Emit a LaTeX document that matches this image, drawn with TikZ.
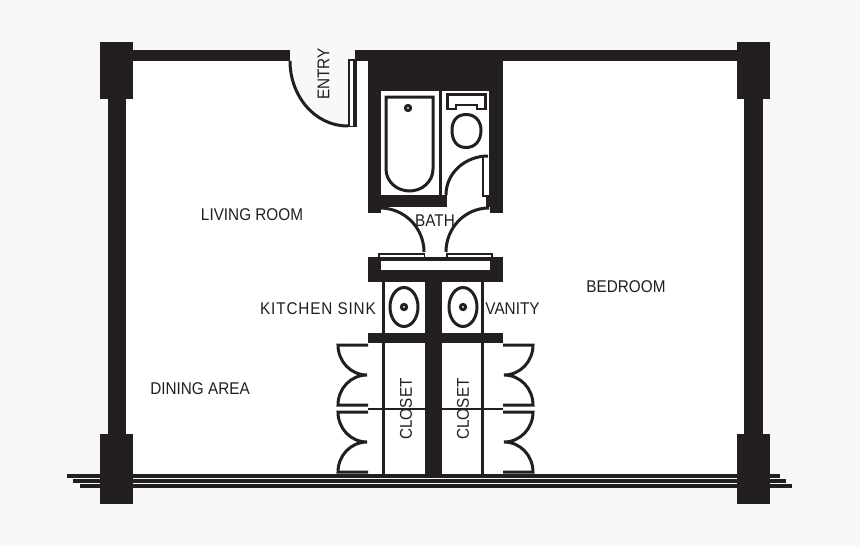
\documentclass[tikz,border=0pt]{standalone}
\usepackage{fontspec}
\setmainfont[FakeStretch=0.9]{Liberation Sans}
\definecolor{wallink}{HTML}{231F20}
\definecolor{outside}{HTML}{F8F8F8}
\tikzset{
	wall/.style={fill=wallink, draw=none},
	fixture/.style={draw=wallink, line width=3pt, fill=white},
	drain/.style={draw=wallink, line width=3pt, fill=white},
	swing/.style={draw=wallink, line width=3pt},
	roomlabel/.style={text=wallink, font=\fontsize{17}{17}\selectfont, inner sep=0pt},
}
\begin{document}
\begin{tikzpicture}[x=1pt, y=-1pt]
	\useasboundingbox (0,0) rectangle (860,546);
	\fill[outside] (0,0) rectangle (860,546);
	\fill[white] (126,61) rectangle (744,476);
	% entry recess
	\fill[outside] (290,50) -- (290,61) to[out=-90, in=180] (348,126) -- (348,50) -- cycle;
	\fill[outside] (348,50) rectangle (355,59);

	% outer walls and pillars
	\foreach \px/\py/\ph in {100/42/57, 737/42/57, 100/434/70, 737/434/70}
		\fill[wall] (\px,\py) rectangle (\px+33,\py+\ph);
	\fill[wall] (108,99) rectangle (126,434);
	\fill[wall] (744,99) rectangle (763,434);
	\fill[wall] (133,50) rectangle (290,61);
	\fill[wall] (355,50) rectangle (737,61);
	% front glazing
	\foreach \ly/\lx/\rx in {476/67/780, 481/73/786, 486/80/792}
		\draw[wallink, line width=3.2pt] (\lx,\ly) -- (\rx,\ly);
	\foreach \px in {100,737}
		\fill[wall] (\px,470) rectangle (\px+33,492);

	% entry door
	\fill[wall] (348,59) rectangle (357,127);
	\fill[white] (349.5,61) rectangle (353,125.5);
	\draw[swing] (290,61) to[out=-90, in=180] (348,126);

	% bath core
	\fill[wall] (368,50) rectangle (503,213);
	\fill[white] (381,91) rectangle (489,195);
	\fill[wall] (439,91) rectangle (442,195);
	\fill[white] (447,195) rectangle (482,208);
	\fill[white] (482,197) rectangle (486,208);
	\fill[white] (381,207) rectangle (490,214);

	% tub
	\draw[fixture] (386,97) -- (433,97) -- (433,169) to[out=-90, in=0] (409.5,191) to[out=180, in=-90] (386,169) -- cycle;
	\draw[drain] (408,108) circle[radius=2.6pt];

	% toilet
	\draw[fixture, line width=2.6pt] (447.5,94.5) -- (485.5,94.5) -- (485.5,109) -- (477,109) -- (477,105) -- (456,105) -- (456,109) -- (447.5,109) -- cycle;
	\draw[fixture] (466,114.5) .. controls (476,114.5) and (481,122) .. (481,130) .. controls (481,141) and (475,147.5) .. (466,147.5) .. controls (457,147.5) and (452,141) .. (452,130) .. controls (452,122) and (456,114.5) .. (466,114.5) -- cycle;

	% bathroom door
	\draw[swing] (446,195) to[out=90, in=180] (488,156);
	\draw[swing, line width=2.6pt] (483,156) -- (483,197);

	% bath double doors
	\draw[swing] (380,208) to[out=0, in=90] (424,252);
	\draw[swing] (489,208) to[out=180, in=90] (446,252);
	\fill[wall] (368,257) rectangle (503,282);
	\fill[white] (381,261) rectangle (490,270);
	\fill[wall] (378,253) rectangle (425,260);
	\fill[white] (380,254.5) rectangle (424,256.5);
	\fill[wall] (446,253) rectangle (493,260);
	\fill[white] (447.5,254.5) rectangle (491,256.5);

	% sinks
	\fill[wall] (425,282) rectangle (442,474);
	\fill[wall] (368,333) rectangle (503,343);
	\fill[wall] (382,282) rectangle (385,474);
	\fill[wall] (481,282) rectangle (484,474);
	\foreach \sx in {404, 463} {
		\draw[fixture] (\sx,307) ellipse[x radius=14pt, y radius=19.5pt];
		\draw[drain] (\sx,307) circle[radius=2.6pt];
	}

	% closet divider and folding doors
	\draw[wallink, line width=2.4pt] (368,409) -- (503,409);
	\foreach \dy in {345, 412} {
		\draw[swing] (368,\dy) -- (338,\dy) to[out=-90, in=180] (367,\dy+30) to[out=180, in=90] (338,\dy+60) -- (368,\dy+60);
		\draw[swing] (503,\dy) -- (533,\dy) to[out=-90, in=0] (504,\dy+30) to[out=0, in=90] (533,\dy+60) -- (503,\dy+60);
	}

	% labels
	\node[roomlabel, rotate=90] (entry) at (323.5,74) {ENTRY};
	\node[roomlabel] (bath) at (435,221) {BATH};
	\node[roomlabel] (living) at (252,215) {LIVING ROOM};
	\node[roomlabel] (bedroom) at (626,287) {BEDROOM};
	\node[roomlabel] (sink) at (318,309) {\addfontfeatures{LetterSpace=5}KITCHEN SINK};
	\node[roomlabel] (vanity) at (512.5,309) {VANITY};
	\node[roomlabel] (dining) at (200,389) {DINING AREA};
	\node[roomlabel, rotate=90] (closetl) at (406,409) {CLOSET};
	\node[roomlabel, rotate=90] (closetr) at (463,409) {CLOSET};
\end{tikzpicture}
\end{document}
